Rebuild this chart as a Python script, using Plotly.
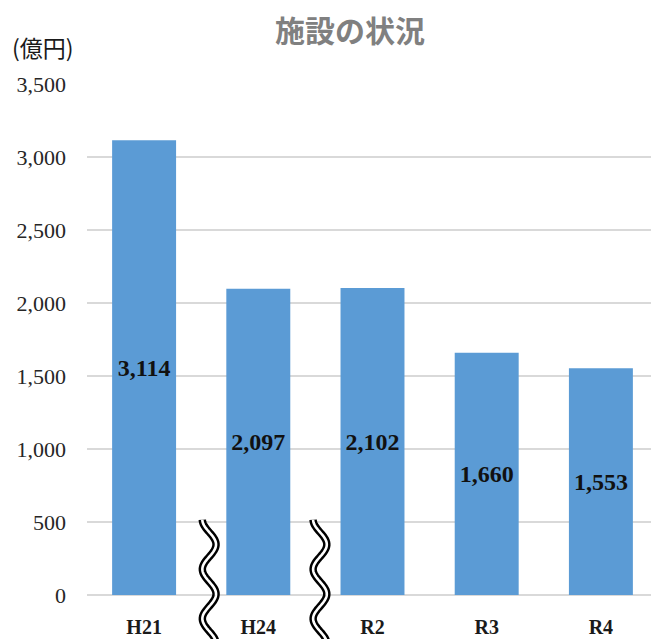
import numpy as np
import plotly.graph_objects as go

# ---- data ----
categories = ["H21", "H24", "R2", "R3", "R4"]
values = [3114, 2097, 2102, 1660, 1553]
y_ticks = [0, 500, 1000, 1500, 2000, 2500, 3000, 3500]
title_text = "施設の状況"
unit_text = "(億円)"
break_after = [0, 1]  # axis breaks drawn after these category indices

BAR_COLOR = "#5B9BD5"
GRID_COLOR = "#d9d9d9"
SERIF = "Liberation Serif"

# page has an 8px body margin; figure coordinates = page coordinates - 8
W, H = 651, 631
L, R, T, B = 79, 1, 76, 39
plot_w = W - L - R
plot_h = H - T - B

def py_to_paper(page_y):
    return (H - B - (page_y - 8)) / plot_h

def px_to_paper(page_x):
    return ((page_x - 8) - L) / plot_w

fig = go.Figure()
fig.add_trace(go.Bar(
    x=list(range(len(categories))),
    y=values,
    width=0.56,
    marker=dict(color=BAR_COLOR, line=dict(width=0)),
    texttemplate="%{y:,}",
    textposition="inside",
    insidetextanchor="middle",
    constraintext="none",
    textangle=0,
    textfont=dict(family=SERIF, size=24, color="#111111", weight="bold"),
    hoverinfo="skip",
))

# ---- axis-break squiggles (decoration) ----
shapes = []
for i, off in zip(break_after, [0.07, 0.04]):
    c = i + 0.5 + off
    pys = np.linspace(524, 650, 90)
    amp = 0.06
    xs = c + amp * np.sin(2 * np.pi * (pys - 524) / 50 - np.pi / 2)
    ys = [py_to_paper(p) for p in pys]
    path = "M " + " L ".join(f"{x:.4f},{y:.4f}" for x, y in zip(xs, ys))
    for w, col in [(7.5, "black"), (2.6, "white")]:
        shapes.append(dict(type="path", path=path, xref="x", yref="paper",
                           line=dict(color=col, width=w), layer="above"))

fig.update_layout(
    width=W, height=H,
    margin=dict(l=L, r=R, t=T, b=B),
    paper_bgcolor="white", plot_bgcolor="white",
    showlegend=False,
    shapes=shapes,
    xaxis=dict(
        range=[-0.5, len(categories) - 0.5],
        tickmode="array",
        tickvals=list(range(len(categories))),
        ticktext=categories,
        tickfont=dict(family=SERIF, size=20, color="#1a1a1a", weight="bold"),
        showgrid=False, zeroline=False, showline=False,
        ticks="", ticklabelstandoff=18,
        fixedrange=True,
    ),
    yaxis=dict(
        range=[0, 3500],
        tickmode="array",
        tickvals=y_ticks,
        tickformat=",",
        tickfont=dict(family=SERIF, size=22, color="#262626"),
        showgrid=True, gridcolor=GRID_COLOR, gridwidth=1.5,
        zeroline=True, zerolinecolor=GRID_COLOR, zerolinewidth=1.5,
        showline=False, ticks="", ticklabelstandoff=20,
        fixedrange=True,
    ),
    annotations=[
        dict(text=title_text, xref="paper", yref="paper",
             x=px_to_paper(350), y=py_to_paper(28),
             xanchor="center", yanchor="middle", showarrow=False,
             font=dict(family="Noto Sans CJK JP", size=30, color="#808080", weight="bold")),
        dict(text=unit_text, xref="paper", yref="paper",
             x=px_to_paper(10), y=py_to_paper(47),
             xanchor="left", yanchor="middle", showarrow=False,
             font=dict(family="Noto Sans CJK JP", size=23, color="#1a1a1a")),
    ],
)

fig.write_html("out.html")
